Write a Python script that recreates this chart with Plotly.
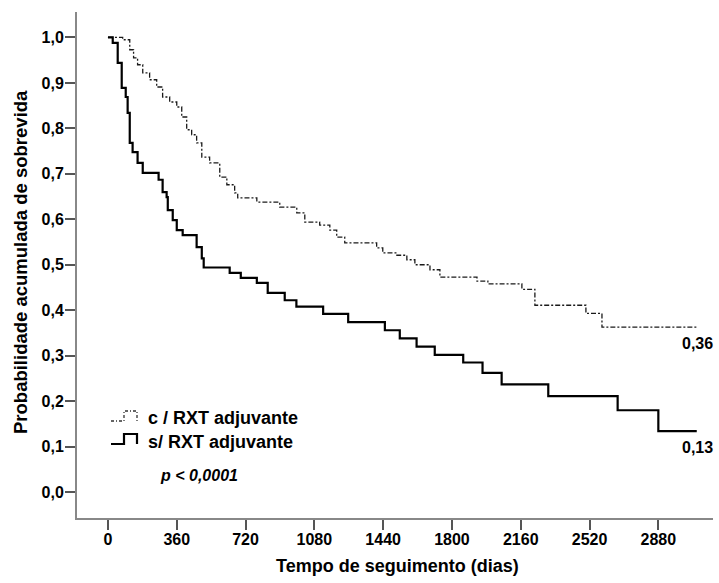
import plotly.graph_objects as go

# s/ RXT adjuvante (solid) : event times (days) and survival after each step
s_days = [0, 25, 51, 72, 93, 103, 114, 129, 155, 182, 265, 286, 307, 313, 339, 360, 391,
          464, 491, 501, 637, 695, 779, 836, 925, 986, 1126, 1257, 1449, 1527, 1615,
          1710, 1859, 1960, 2060, 2304, 2667, 2880, 3081]
s_surv = [1.0, 0.988, 0.944, 0.889, 0.869, 0.834, 0.768, 0.748, 0.724, 0.702, 0.687, 0.660,
          0.649, 0.620, 0.598, 0.576, 0.565, 0.539, 0.514, 0.494, 0.482, 0.471, 0.460,
          0.438, 0.422, 0.408, 0.392, 0.374, 0.356, 0.338, 0.320, 0.302, 0.285, 0.262,
          0.237, 0.211, 0.180, 0.134, 0.134]

# c / RXT adjuvante (dashed)
c_days = [0, 77, 114, 134, 155, 182, 218, 255, 286, 323, 360, 386, 412, 438, 464, 491, 532,
          585, 622, 663, 679, 779, 899, 988, 1030, 1108, 1161, 1197, 1239, 1406, 1438,
          1512, 1564, 1606, 1685, 1737, 1931, 1988, 2166, 2234, 2501, 2585, 3087]
c_surv = [1.0, 0.995, 0.973, 0.955, 0.940, 0.922, 0.907, 0.891, 0.869, 0.858, 0.847, 0.825,
          0.797, 0.786, 0.768, 0.737, 0.724, 0.693, 0.676, 0.658, 0.647, 0.638, 0.627,
          0.614, 0.594, 0.587, 0.576, 0.561, 0.548, 0.537, 0.526, 0.521, 0.511, 0.500,
          0.489, 0.473, 0.464, 0.458, 0.446, 0.411, 0.393, 0.363, 0.363]

x_ticks = [0, 360, 720, 1080, 1440, 1800, 2160, 2520, 2880]
y_ticks = [0.0, 0.1, 0.2, 0.3, 0.4, 0.5, 0.6, 0.7, 0.8, 0.9, 1.0]
legend_labels = ["c / RXT adjuvante", "s/ RXT adjuvante"]
end_labels = ["0,36", "0,13"]
x_title = "Tempo de seguimento (dias)"
y_title = "Probabilidade acumulada de sobrevida"
p_text = "p < 0,0001"

W, H = 719, 583
L, R, T, B = 77, 6, 12, 65
FONT = "Liberation Sans, Arial, sans-serif"


def px(x):
    return (x - L) / (W - L - R)


def py(y):
    return (H - B - y) / (H - T - B)


fig = go.Figure()
fig.add_trace(go.Scatter(x=c_days, y=c_surv, mode="lines", line_shape="hv",
                         line=dict(color="#1a1a1a", width=1.3, dash="5px,2px,2px,2px"),
                         showlegend=False, hoverinfo="skip"))
fig.add_trace(go.Scatter(x=s_days, y=s_surv, mode="lines", line_shape="hv",
                         line=dict(color="#000000", width=2.2),
                         showlegend=False, hoverinfo="skip"))

# end value labels
fig.add_annotation(x=px(715), y=c_surv[-1], yref="y", xref="paper", text="<b>" + end_labels[0] + "</b>",
                   showarrow=False, xanchor="right", yanchor="top", yshift=-6,
                   font=dict(family=FONT, size=16, color="#000"))
fig.add_annotation(x=px(715), y=s_surv[-1], yref="y", xref="paper", text="<b>" + end_labels[1] + "</b>",
                   showarrow=False, xanchor="right", yanchor="top", yshift=-6,
                   font=dict(family=FONT, size=16, color="#000"))


# custom legend
def icon(ylow, yhigh):
    return (f"M {px(111)},{py(ylow)} L {px(124)},{py(ylow)} L {px(124)},{py(yhigh)} "
            f"L {px(137)},{py(yhigh)} L {px(137)},{py(ylow)}")


fig.add_shape(type="path", path=icon(421, 411), xref="paper", yref="paper",
              line=dict(color="#333333", width=1.3, dash="3px,2px,1px,2px"))
fig.add_shape(type="path", path=icon(444, 434), xref="paper", yref="paper",
              line=dict(color="#000000", width=2.2))
fig.add_annotation(x=px(146), y=py(418), xref="paper", yref="paper",
                   text="<b>" + legend_labels[0] + "</b>", showarrow=False,
                   xanchor="left", yanchor="middle", font=dict(family=FONT, size=18, color="#000"))
fig.add_annotation(x=px(146), y=py(442), xref="paper", yref="paper",
                   text="<b>" + legend_labels[1] + "</b>", showarrow=False,
                   xanchor="left", yanchor="middle", font=dict(family=FONT, size=18, color="#000"))
fig.add_annotation(x=px(158), y=py(475), xref="paper", yref="paper",
                   text="<b><i>" + p_text + "</i></b>", showarrow=False,
                   xanchor="left", yanchor="middle", font=dict(family=FONT, size=16, color="#000"))

# axis titles
fig.add_annotation(x=px(397), y=py(566), xref="paper", yref="paper",
                   text="<b>" + x_title + "</b>", showarrow=False,
                   xanchor="center", yanchor="middle", font=dict(family=FONT, size=18, color="#000"))
fig.add_annotation(x=px(20), y=py(262), xref="paper", yref="paper", textangle=-90,
                   text="<b>" + y_title + "</b>", showarrow=False,
                   xanchor="center", yanchor="middle", font=dict(family=FONT, size=18.5, color="#000"))

fig.update_layout(
    width=W, height=H,
    margin=dict(l=L, r=R, t=T, b=B),
    paper_bgcolor="white", plot_bgcolor="white",
    font=dict(family=FONT, size=16, color="#000"),
    xaxis=dict(range=[-162, 3166], tickmode="array", tickvals=x_ticks,
               ticktext=[f"<b>{v}</b>" for v in x_ticks], automargin=False,
               showgrid=False, zeroline=False, showline=True, linecolor="#888888", linewidth=2,
               ticks="outside", ticklen=10, tickwidth=2, tickcolor="#555555",
               ticklabelstandoff=-4,
               tickfont=dict(family=FONT, size=16, color="#000")),
    yaxis=dict(range=[-0.057, 1.056], tickmode="array", tickvals=y_ticks,
               ticktext=[f"<b>{v:.1f}</b>".replace(".", ",") for v in y_ticks], automargin=False,
               showgrid=False, zeroline=False, showline=True, linecolor="#888888", linewidth=2,
               ticks="outside", ticklen=10, tickwidth=2, tickcolor="#555555",
               ticklabelstandoff=-2,
               tickfont=dict(family=FONT, size=16, color="#000")),
)

fig.write_html("out.html", config={"displayModeBar": False},
               post_script="document.body.style.margin='0';document.body.style.overflow='hidden';")
